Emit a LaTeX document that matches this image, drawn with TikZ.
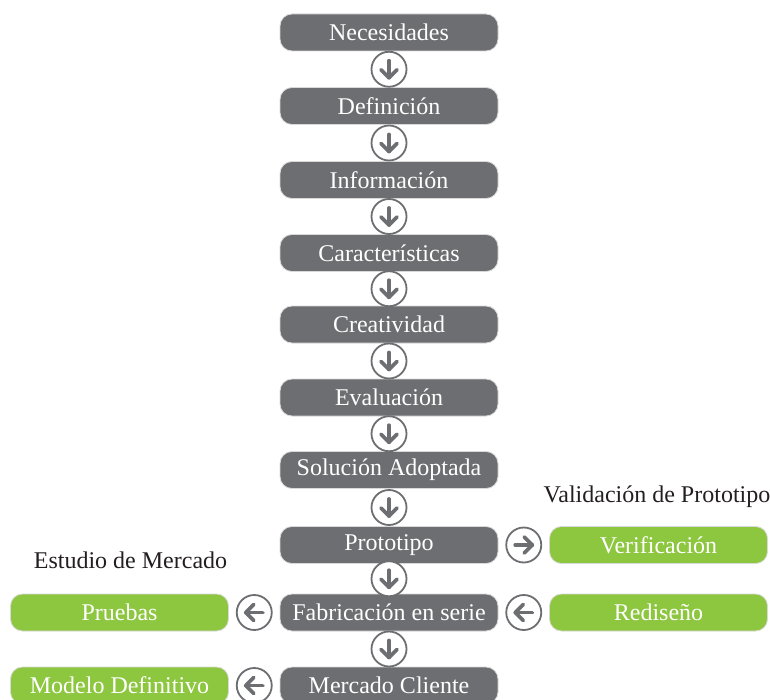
\documentclass[tikz,border=0pt]{standalone}
\usepackage{fontspec}
\setmainfont{Liberation Serif}
\usetikzlibrary{calc}
\definecolor{boxgray}{HTML}{6D6E71}
\definecolor{boxgreen}{HTML}{8DC63F}
\definecolor{labeltext}{HTML}{231F20}
\tikzset{
  base/.style={rounded corners=12pt, minimum width=218pt, minimum height=37pt,
    text=white, font=\fontsize{24}{28}\selectfont, draw=black!15, line width=0.8pt, inner sep=0pt},
  graybox/.style={base, fill=boxgray},
  greenbox/.style={base, fill=boxgreen},
  lbl/.style={text=labeltext, font=\fontsize{24}{28}\selectfont, inner sep=0pt},
  circ/.style={circle, draw=boxgray, line width=1.8pt, fill=white, minimum size=35pt, inner sep=0pt},
  ar/.style={boxgray, line width=3.8pt, line cap=round, line join=round},
  arrdown/.style={circ, path picture={
    \coordinate (pc) at (path picture bounding box.center);
    \draw[ar] ([yshift=8.5pt]pc) -- ([yshift=-8.5pt]pc);
    \draw[ar] ([xshift=-8pt,yshift=-0.5pt]pc) -- ([yshift=-8.5pt]pc) -- ([xshift=8pt,yshift=-0.5pt]pc);}},
  arrright/.style={circ, path picture={
    \coordinate (pc) at (path picture bounding box.center);
    \draw[ar] ([xshift=-8.5pt]pc) -- ([xshift=8.5pt]pc);
    \draw[ar] ([xshift=0.5pt,yshift=8pt]pc) -- ([xshift=8.5pt]pc) -- ([xshift=0.5pt,yshift=-8pt]pc);}},
  arrleft/.style={circ, path picture={
    \coordinate (pc) at (path picture bounding box.center);
    \draw[ar] ([xshift=8.5pt]pc) -- ([xshift=-8.5pt]pc);
    \draw[ar] ([xshift=-0.5pt,yshift=8pt]pc) -- ([xshift=-8.5pt]pc) -- ([xshift=-0.5pt,yshift=-8pt]pc);}},
}
\begin{document}
\begin{tikzpicture}[x=1pt,y=-1pt]
\useasboundingbox[fill=white] (0,0) rectangle (770,700);
\node[graybox] (n1) at (389,32.5) {Necesidades};
\node[graybox] (n2) at (389,106) {Definición};
\node[graybox] (n3) at (389,180) {Información};
\node[graybox] (n4) at (389,253) {Características};
\node[graybox] (n5) at (389,324.5) {Creatividad};
\node[graybox] (n6) at (389,397.5) {Evaluación};
\node[graybox] (n7) at (389,470) {Solución Adoptada};
\node[graybox] (n8) at (389,545) {Prototipo};
\node[graybox] (n9) at (389,612.5) {Fabricación en serie};
\node[graybox] (n10) at (389,685.5) {Mercado Cliente};

\node[greenbox] (ver) at (658.5,545) {Verificación};
\node[greenbox] (red) at (658.5,612.5) {Rediseño};
\node[greenbox] (pru) at (119.5,612.5) {Pruebas};
\node[greenbox] (mod) at (119.5,685.5) {Modelo Definitivo};

\node[lbl] (lv) at (657,497) {Validación de Prototipo};
\node[lbl] (le) at (130.5,560) {Estudio de Mercado};

\node[arrdown] (c1) at ($(n1)!0.5!(n2)$) {};
\node[arrdown] (c2) at ($(n2)!0.5!(n3)$) {};
\node[arrdown] (c3) at ($(n3)!0.5!(n4)$) {};
\node[arrdown] (c4) at ($(n4)!0.5!(n5)$) {};
\node[arrdown] (c5) at ($(n5)!0.5!(n6)$) {};
\node[arrdown] (c6) at ($(n6)!0.5!(n7)$) {};
\node[arrdown] (c7) at ($(n7)!0.5!(n8)$) {};
\node[arrdown] (c8) at ($(n8)!0.5!(n9)$) {};
\node[arrdown] (c9) at ($(n9)!0.5!(n10)$) {};

\node[arrright] (cv) at ($(n8.east)!0.5!(ver.west)$) {};
\node[arrleft] (cr) at ($(n9.east)!0.5!(red.west)$) {};
\node[arrleft] (cp) at ($(pru.east)!0.5!(n9.west)$) {};
\node[arrleft] (cm) at ($(mod.east)!0.5!(n10.west)$) {};
\end{tikzpicture}
\end{document}
